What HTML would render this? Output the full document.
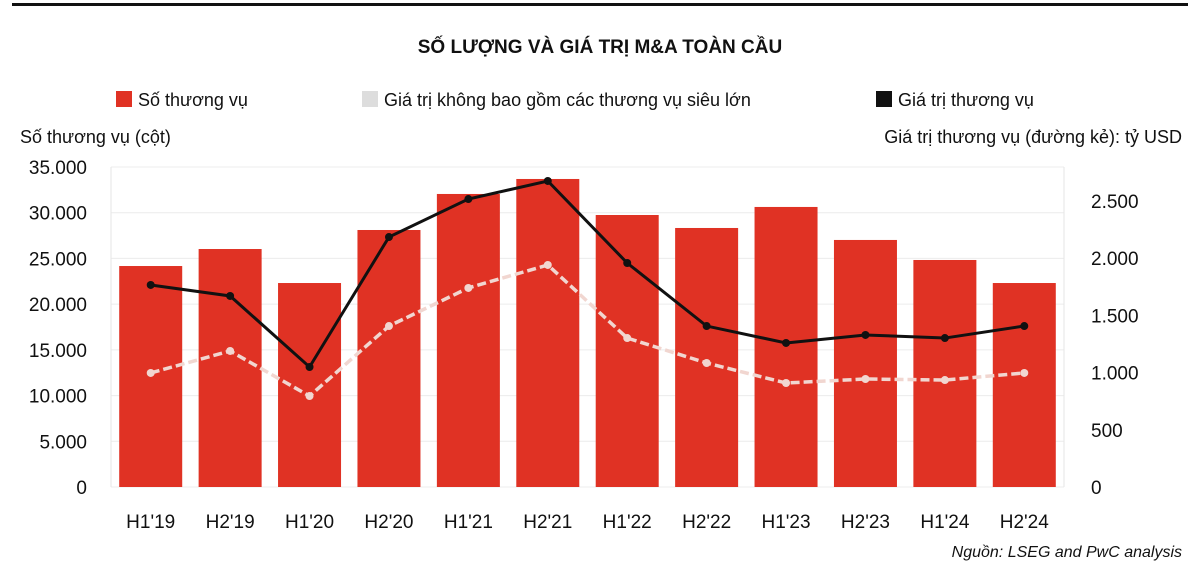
<!DOCTYPE html>
<html><head><meta charset="utf-8"><style>
body{margin:0;background:#fff;font-family:"Liberation Sans",sans-serif}
svg text{font-family:"Liberation Sans",sans-serif}
</style></head><body>
<svg width="1200" height="578" viewBox="0 0 1200 578">
<rect x="12" y="3" width="1176" height="3" fill="#111"/>
<text x="600" y="53" text-anchor="middle" font-size="19" font-weight="bold" fill="#111">SỐ LƯỢNG VÀ GIÁ TRỊ M&amp;A TOÀN CẦU</text>
<g font-size="18" fill="#111">
<g><rect x="116" y="91" width="16" height="16" fill="#e03224"/><text x="138" y="106">Số thương vụ</text></g>
<g><rect x="362" y="91" width="16" height="16" fill="#ddd"/><text x="384" y="106">Giá trị không bao gồm các thương vụ siêu lớn</text></g>
<g><rect x="876" y="91" width="16" height="16" fill="#111"/><text x="898" y="106">Giá trị thương vụ</text></g>
</g>
<text x="20" y="143" font-size="18" fill="#111">Số thương vụ (cột)</text>
<text x="1182" y="143" text-anchor="end" font-size="18" fill="#111">Giá trị thương vụ (đường kẻ): tỷ USD</text>
<g id="plot"></g>
<text x="1182" y="557" text-anchor="end" font-size="16" font-style="italic" fill="#111">Nguồn: LSEG and PwC analysis</text>
</svg>
<script>
const categories=["H1'19","H2'19","H1'20","H2'20","H1'21","H2'21","H1'22","H2'22","H1'23","H2'23","H1'24","H2'24"];
const dealCounts=[24170,26030,22310,28110,32050,33690,29750,28330,30630,27020,24830,22310];
const dealValues=[1766,1670,1049,2185,2517,2675,1958,1407,1259,1329,1302,1407];
const valuesExclMega=[997,1189,795,1407,1740,1941,1302,1084,909,944,935,997];
const leftTicks=[0,5000,10000,15000,20000,25000,30000,35000];
const rightTicks=[0,500,1000,1500,2000,2500];
const leftTickLabels=["0","5.000","10.000","15.000","20.000","25.000","30.000","35.000"];
const rightTickLabels=["0","500","1.000","1.500","2.000","2.500"];

const NS="http://www.w3.org/2000/svg";
const g=document.getElementById('plot');
const L=111,R=1064,T=167,B=487;
const band=(R-L)/categories.length;
const xc=i=>L+band*(i+0.5);
const yL=v=>B-(v/35000)*(B-T);
const yR=v=>B-(v/2500)*(B-201);
function el(t,a){const e=document.createElementNS(NS,t);for(const k in a)e.setAttribute(k,a[k]);g.appendChild(e);return e;}

leftTicks.forEach((v,i)=>{
  const l=el('line',{x1:L,x2:R,y1:yL(v),y2:yL(v),stroke:'#ececec','stroke-width':1});
  
  
  const t=el('text',{x:87,y:yL(v)+7,'text-anchor':'end','font-size':19,fill:'#111'});
  t.textContent=leftTickLabels[i];
  
  
});
const ax1=el('line',{x1:L,x2:L,y1:T,y2:B,stroke:'#e6e6e6'});


const ax2=el('line',{x1:R,x2:R,y1:T,y2:B,stroke:'#e6e6e6'});


rightTicks.forEach((v,i)=>{
  const t=el('text',{x:1091,y:yR(v)+7,'font-size':19,fill:'#111'});
  t.textContent=rightTickLabels[i];
  
  
});
categories.forEach((c,i)=>{
  const r=el('rect',{x:xc(i)-31.5,y:yL(dealCounts[i]),width:63,height:B-yL(dealCounts[i]),fill:'#e03224'});
  
  
  const t=el('text',{x:xc(i),y:528,'text-anchor':'middle','font-size':19,fill:'#111'});
  t.textContent=c;
  
  
});
const p1=el('polyline',{points:valuesExclMega.map((v,i)=>xc(i)+','+yR(v)).join(' '),fill:'none',stroke:'#f1d6d0','stroke-width':3.5,'stroke-dasharray':'9 4'});


valuesExclMega.forEach((v,i)=>{const d=el('circle',{cx:xc(i),cy:yR(v),r:4,fill:'#f1d6d0'});
  
  });
const p2=el('polyline',{points:dealValues.map((v,i)=>xc(i)+','+yR(v)).join(' '),fill:'none',stroke:'#111','stroke-width':3});


dealValues.forEach((v,i)=>{const d=el('circle',{cx:xc(i),cy:yR(v),r:4,fill:'#111'});
  
  });
</script>
</body></html>
